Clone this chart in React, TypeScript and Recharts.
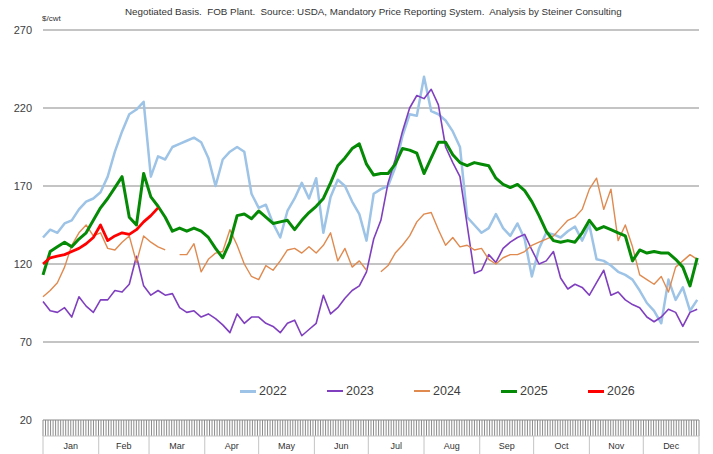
import { CartesianGrid, Line, LineChart, XAxis, YAxis } from 'recharts'

// x positions: day of year, sampled every 4 days
const days = [
  0, 4, 8, 12, 16, 20, 24, 28, 32, 36, 40, 44, 48, 52, 56, 60, 64, 68, 72, 76,
  80, 84, 88, 92, 96, 100, 104, 108, 112, 116, 120, 124, 128, 132, 136, 140, 144, 148, 152, 156,
  160, 164, 168, 172, 176, 180, 184, 188, 192, 196, 200, 204, 208, 212, 216, 220, 224, 228, 232, 236,
  240, 244, 248, 252, 256, 260, 264, 268, 272, 276, 280, 284, 288, 292, 296, 300, 304, 308, 312, 316,
  320, 324, 328, 332, 336, 340, 344, 348, 352, 356, 360, 364
]

const y2022 = [
  137, 142, 140, 146, 148, 155, 160, 162, 166, 176,
  192, 205, 216, 219, 224, 176, 189, 187, 195, 197,
  199, 201, 198, 188, 170, 187, 192, 195, 192, 165,
  156, 158, 146, 137, 154, 162, 172, 162, 175, 140,
  163, 174, 170, 160, 152, 135, 165, 168, 170, 182,
  202, 216, 215, 240, 218, 216, 212, 205, 195, 150,
  145, 140, 143, 152, 143, 138, 146, 136, 112, 130,
  140, 139, 137, 141, 144, 135, 145, 123, 122, 119,
  115, 113, 110, 103, 95, 90, 82, 110, 97, 105,
  90, 97
]

const y2023 = [
  96, 90, 89, 92, 86, 99, 93, 89, 97, 97,
  103, 102, 107, 125, 106, 100, 103, 100, 101, 92,
  89, 90, 86, 88, 85, 81, 76, 88, 82, 86,
  86, 82, 80, 76, 82, 84, 74, 78, 82, 100,
  88, 92, 98, 103, 106, 115, 136, 148, 172, 187,
  205, 220, 228, 226, 232, 222, 195, 185, 176, 145,
  114, 116, 126, 121, 130, 134, 137, 139, 129, 120,
  122, 128, 111, 104, 107, 105, 100, 108, 116, 100,
  102, 97, 94, 92, 86, 83, 86, 91, 89, 80,
  89, 91
]

const y2024 = [
  99, 103, 108, 118, 132, 140, 145, 138, 140, 130,
  129, 134, 138, 121, 138, 134, 131, 129, null, 126,
  126, 133, 115, 123, 127, 128, 142, 132, 120, 112,
  110, 119, 116, 122, 129, 130, 127, 131, 127, 132,
  140, 122, 130, 118, 122, 116, null, 115, 119, 127,
  132, 138, 147, 152, 153, 142, 132, 137, 131, 132,
  129, 130, 123, 120, 124, 126, 126, 128, 132, 134,
  136, 138, 143, 148, 150, 155, 168, 175, 155, 168,
  135, 145, 131, 113, 110, 107, 112, 102, 118, 122,
  126, 123
]

const y2025 = [
  113, 128, 131, 134, 131, 136, 140, 148, 156, 162,
  169, 176, 150, 145, 178, 163, 157, 150, 141, 143,
  141, 143, 141, 137, 130, 124, 134, 151, 152, 149,
  154, 150, 146, 147, 148, 142, 148, 153, 157, 162,
  172, 183, 188, 194, 197, 184, 177, 178, 178, 184,
  194, 193, 191, 178, 188, 198, 198, 190, 185, 183,
  185, 184, 183, 175, 171, 169, 171, 167, 160, 151,
  141, 135, 134, 135, 134, 140, 148, 142, 144, 142,
  140, 138, 122, 129, 127, 128, 127, 127, 123, 118,
  106, 124
]

const y2026 = [120, 124, 125, 126, 128, 130, 133, 137, 145, 135, 138, 140, 139, 142, 147, 151, 156]

const yTicks = [20, 70, 120, 170, 220, 270]
const monthNames = ['Jan', 'Feb', 'Mar', 'Apr', 'May', 'Jun', 'Jul', 'Aug', 'Sep', 'Oct', 'Nov', 'Dec']
const monthStarts = [0, 31, 59, 90, 120, 151, 181, 212, 243, 273, 304, 334, 365]

const series = [
  { key: 'y2022', name: '2022', color: '#9dc3e6', width: 2.5 },
  { key: 'y2023', name: '2023', color: '#7f3fbf', width: 1.6 },
  { key: 'y2024', name: '2024', color: '#e08a4f', width: 1.4 },
  { key: 'y2025', name: '2025', color: '#058a05', width: 3 },
  { key: 'y2026', name: '2026', color: '#ff0000', width: 2.8 }
]

const rows = days.map((d, i) => ({
  d,
  y2022: y2022[i],
  y2023: y2023[i],
  y2024: y2024[i],
  y2025: y2025[i],
  y2026: y2026[i]
}))

// dense tick band (one tick per business day, roughly)
const bandTicks = Array.from({ length: 261 }, (_, i) => (i * 365) / 260)
const monthMids = monthNames.map((_, i) => (monthStarts[i] + monthStarts[i + 1]) / 2)
const monthTicks = [...monthStarts, ...monthMids].sort((a, b) => a - b)

const font = '"Liberation Sans", Arial, sans-serif'

function EmptyTick() {
  return <g />
}

function MonthTick(props: any) {
  const { x, y, payload } = props
  const mi = monthMids.indexOf(payload.value)
  if (mi >= 0) {
    return (
      <text x={x} y={y + 13} textAnchor="middle" fontSize={9} fill="#333" fontFamily={font}>
        {monthNames[mi]}
      </text>
    )
  }
  return <line x1={x} x2={x} y1={y} y2={y + 20} stroke="#c4c4c4" />
}

export default function App() {
  return (
    <div
      style={{
        position: 'absolute',
        left: 0,
        top: 0,
        width: 713,
        height: 454,
        background: '#fff',
        fontFamily: font,
        overflow: 'hidden'
      }}
    >
      <LineChart
        width={713}
        height={454}
        data={rows}
        margin={{ top: 30, right: 14, bottom: 0, left: 8 }}
      >
        <CartesianGrid vertical={false} stroke="#c4c4c4" strokeWidth={2} />
        <XAxis
          dataKey="d"
          type="number"
          domain={[0, 365]}
          ticks={bandTicks}
          interval={0}
          tickSize={16}
          tickLine={{ stroke: '#8c8c8c' }}
          tick={<EmptyTick />}
          height={16}
          axisLine={{ stroke: '#c4c4c4' }}
        />
        <XAxis
          xAxisId="m"
          dataKey="d"
          type="number"
          domain={[0, 365]}
          ticks={monthTicks}
          interval={0}
          tickLine={false}
          tickSize={0}
          tickMargin={0}
          tick={<MonthTick />}
          height={18}
          axisLine={{ stroke: '#c4c4c4' }}
        />
        <YAxis
          domain={[20, 270]}
          ticks={yTicks}
          interval={0}
          width={35}
          axisLine={false}
          tickLine={false}
          tickSize={0}
          tickMargin={11}
          tick={{ fontSize: 11, fill: '#404040', fontFamily: font }}
        />
        {series.map((s) => (
          <Line
            key={s.key}
            dataKey={s.key}
            name={s.name}
            stroke={s.color}
            strokeWidth={s.width}
            dot={false}
            activeDot={false}
            type="linear"
            strokeLinejoin="round"
            isAnimationActive={false}
          />
        ))}
      </LineChart>

      <div
        style={{
          position: 'absolute',
          left: 125,
          top: 6,
          fontSize: 9.8,
          color: '#333',
          whiteSpace: 'pre'
        }}
      >
        Negotiated Basis.  FOB Plant.  Source: USDA, Mandatory Price Reporting System.  Analysis by Steiner Consulting
      </div>
      <div style={{ position: 'absolute', left: 42, top: 14, fontSize: 8, color: '#333' }}>$/cwt</div>

      <div style={{ position: 'absolute', left: 240, top: 384, display: 'flex' }}>
        {series.map((s) => (
          <div key={s.key} style={{ width: 87, display: 'flex', alignItems: 'center' }}>
            <span
              style={{
                display: 'inline-block',
                width: 16,
                height: Math.max(2, Math.round(s.width)),
                background: s.color
              }}
            />
            <span style={{ marginLeft: 3, fontSize: 12.5, color: '#404040' }}>{s.name}</span>
          </div>
        ))}
      </div>
    </div>
  )
}
